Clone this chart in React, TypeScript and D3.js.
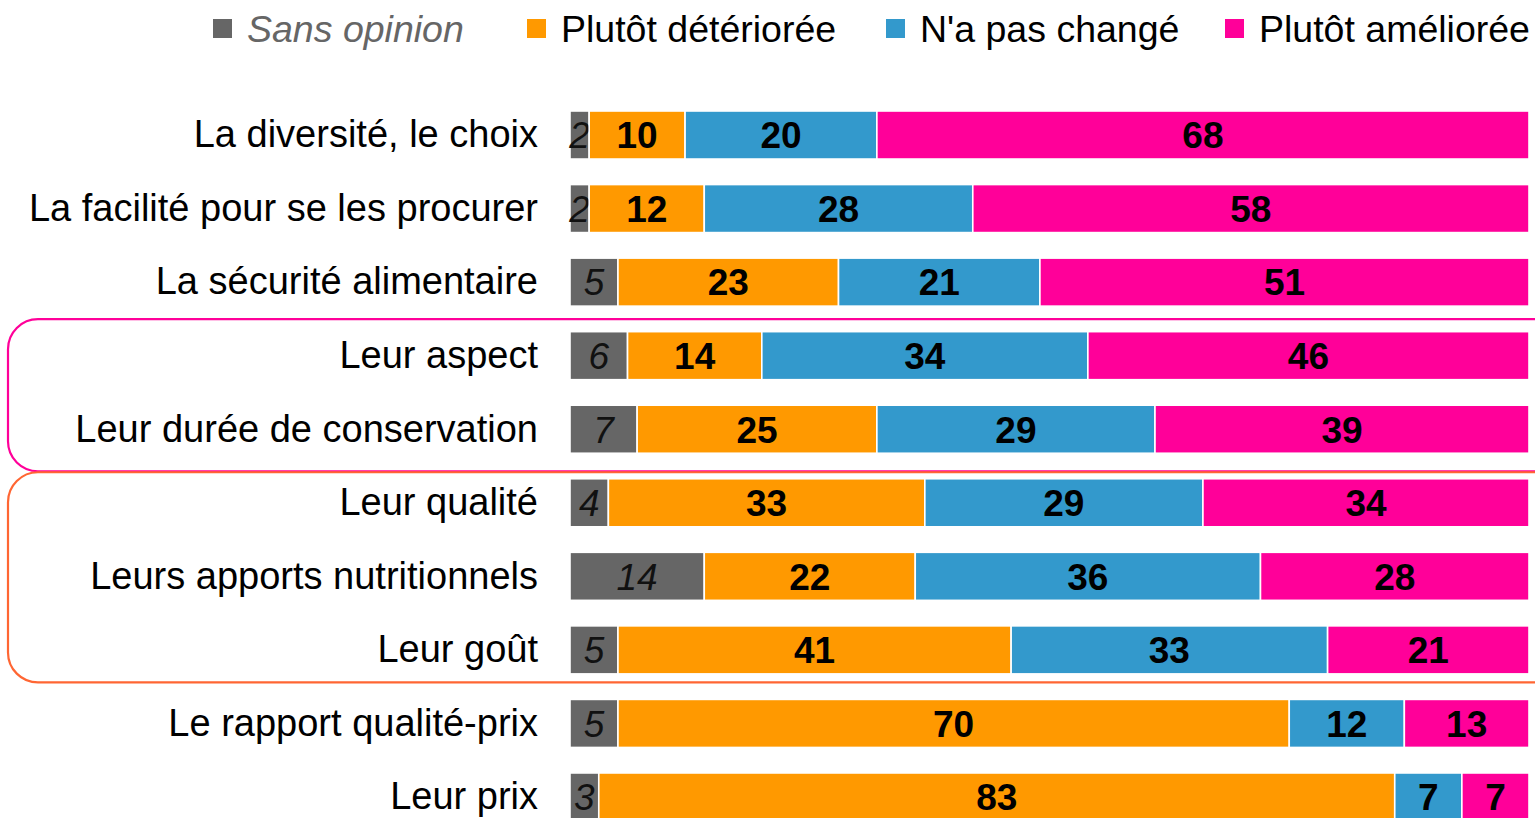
import React from 'react';
import * as d3 from 'd3';

const width = 1535;
const height = 818;

const categories = [
  'La diversité, le choix',
  'La facilité pour se les procurer',
  'La sécurité alimentaire',
  'Leur aspect',
  'Leur durée de conservation',
  'Leur qualité',
  'Leurs apports nutritionnels',
  'Leur goût',
  'Le rapport qualité-prix',
  'Leur prix',
];

const seriesNames = ['Sans opinion', 'Plutôt détériorée', "N'a pas changé", 'Plutôt améliorée'];
const seriesColors = ['#666666', '#FF9900', '#3399CC', '#FF0099'];

const sansOpinion = [2, 2, 5, 6, 7, 4, 14, 5, 5, 3];
const deterioree = [10, 12, 23, 14, 25, 33, 22, 41, 70, 83];
const pasChange = [20, 28, 21, 34, 29, 29, 36, 33, 12, 7];
const amelioree = [68, 58, 51, 46, 39, 34, 28, 21, 13, 7];

// groups framed by rounded boxes
const groups = [
  { from: 'Leur aspect', to: 'Leur durée de conservation', color: '#FF0099' },
  { from: 'Leur qualité', to: 'Leur goût', color: '#FF6633' },
];

const font = '"Liberation Sans", Arial, sans-serif';
const fontSize = 38;
const legendSize = 37.5;
const valueSize = 37;

const margin = { top: 111, right: 6, bottom: -3, left: 570 };

// legend square positions (layout)
const legendX = [213, 527, 886, 1225];

const App = () => {
  const values = [sansOpinion, deterioree, pasChange, amelioree];

  const rows = categories.map((c, i) => {
    const row: any = { cat: c };
    seriesNames.forEach((s, j) => (row[s] = values[j][i]));
    return row;
  });

  const stacked = d3.stack().keys(seriesNames)(rows);

  const x = d3.scaleLinear().domain([0, 100]).range([margin.left, width - margin.right]);
  const y = d3
    .scaleBand()
    .domain(categories)
    .range([margin.top, height - margin.bottom])
    .paddingInner(0.347)
    .paddingOuter(0);

  const bw = y.bandwidth();

  const boxes = groups.map((g, i) => {
    const top = (y(g.from) as number) - (i === 0 ? 12.5 : 6.5);
    const bottom = (y(g.to) as number) + bw + (i === 0 ? 18 : 8.5);
    return { ...g, top, bottom };
  });

  return (
    <svg
      width={width}
      height={height}
      style={{ position: 'absolute', left: 0, top: 0, background: '#fff' }}
      fontFamily={font}
    >
      {boxes.map(b => (
        <rect
          key={b.from}
          x={8}
          y={b.top}
          width={width + 40}
          height={b.bottom - b.top}
          rx={30}
          ry={30}
          fill="none"
          stroke={b.color}
          strokeWidth={2.2}
        />
      ))}

      {seriesNames.map((s, i) => (
        <g key={s}>
          <rect x={legendX[i]} y={19} width={19} height={19} fill={seriesColors[i]} />
          <text
            x={legendX[i] + 34}
            y={28.5}
            dy="0.35em"
            fontSize={legendSize}
            fontStyle={i === 0 ? 'italic' : 'normal'}
            fill={i === 0 ? '#666666' : '#000'}
          >
            {s}
          </text>
        </g>
      ))}

      {categories.map(c => (
        <text
          key={c}
          x={538}
          y={(y(c) as number) + bw / 2 - 1}
          dy="0.35em"
          textAnchor="end"
          fontSize={fontSize}
          fill="#000"
        >
          {c}
        </text>
      ))}

      {stacked.map((layer, j) => (
        <g key={layer.key}>
          {layer.map((d, i) => (
            <rect
              key={categories[i]}
              x={x(d[0])}
              y={y(categories[i])}
              width={x(d[1]) - x(d[0])}
              height={bw}
              fill={seriesColors[j]}
              stroke="#fff"
              strokeWidth={1.6}
            />
          ))}
          {layer.map((d, i) => (
            <text
              key={categories[i]}
              x={(x(d[0]) + x(d[1])) / 2}
              y={(y(categories[i]) as number) + bw / 2}
              dy="0.36em"
              textAnchor="middle"
              fontSize={valueSize}
              fontWeight={j === 0 ? 'normal' : 'bold'}
              fontStyle={j === 0 ? 'italic' : 'normal'}
              fill={j === 0 ? '#111' : '#000'}
            >
              {values[j][i]}
            </text>
          ))}
        </g>
      ))}
    </svg>
  );
};

export default App;
